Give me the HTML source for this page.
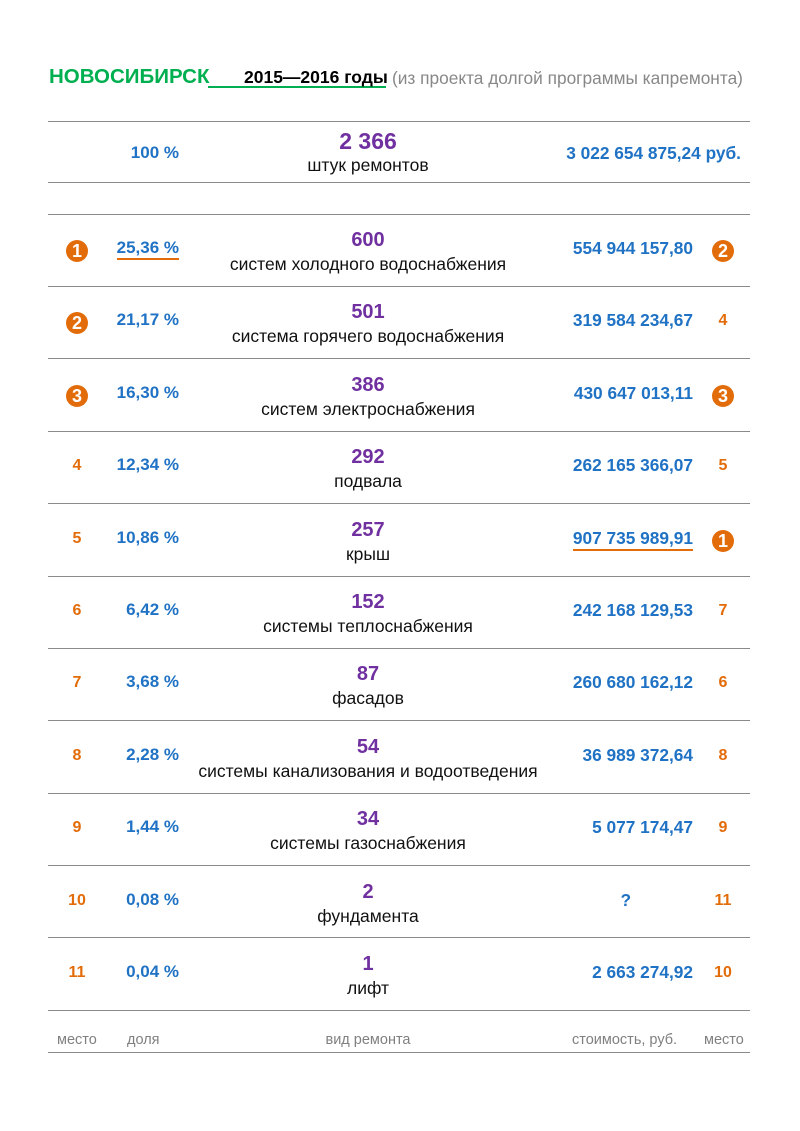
<!DOCTYPE html>
<html><head><meta charset="utf-8"><style>
body{margin:0;background:#fff;width:800px;height:1131px;position:relative;font-family:"Liberation Sans",sans-serif;overflow:hidden}
.a{position:absolute;white-space:nowrap}
.hl{position:absolute;left:48px;width:702px;height:1px;background:#8a8a8a}
.row{position:absolute;left:0;width:800px;height:72px}
.pl{position:absolute;left:57px;width:40px;text-align:center;top:26px;font-size:16px;font-weight:bold;color:#e36c0a}
.pr{position:absolute;left:703px;width:40px;text-align:center;top:26px;font-size:16px;font-weight:bold;color:#e36c0a}
.pc{position:absolute;right:621px;top:24px;font-size:17px;font-weight:bold;color:#1f72c4}
.n{position:absolute;left:118px;width:500px;text-align:center;top:15px;font-size:20px;font-weight:bold;color:#7030a0}
.d{position:absolute;left:118px;width:500px;text-align:center;top:40px;font-size:17.5px;color:#111}
.c{position:absolute;right:107px;top:24px;font-size:17.3px;font-weight:bold;color:#1f72c4}
.ci{display:inline-block;width:22px;height:22px;border-radius:50%;background:#e36c0a;color:#fff;font-size:18px;line-height:22px;text-align:center}
.u{border-bottom:2px solid #e36c0a;padding-bottom:1px}
.f{position:absolute;top:1032px;font-size:14.5px;color:#808080}
</style></head><body>
<div class="a" style="left:49px;top:65px;font-size:20.5px;font-weight:bold;color:#00b050">НОВОСИБИРСК</div>
<div class="a" style="left:208px;top:86px;width:178px;height:2px;background:#00b050"></div>
<div class="a" style="left:244px;top:67px;font-size:17.5px;font-weight:bold;color:#000">2015—2016 годы</div>
<div class="a" style="left:392px;top:68px;font-size:17.3px;color:#888">(из проекта долгой программы капремонта)</div>

<div class="hl" style="top:121px"></div>
<div class="hl" style="top:182px"></div>
<div class="hl" style="top:214px"></div>
<div class="a" style="right:621px;top:143px;font-size:17px;font-weight:bold;color:#1f72c4">100 %</div>
<div class="a" style="left:118px;width:500px;text-align:center;top:128px;font-size:23px;font-weight:bold;color:#7030a0">2 366</div>
<div class="a" style="left:118px;width:500px;text-align:center;top:155px;font-size:17.5px;color:#111">штук ремонтов</div>
<div class="a" style="right:59px;top:143px;font-size:17.3px;font-weight:bold;color:#1f72c4">3 022 654 875,24 руб.</div>

<div class="row" style="top:214px"><div class="pl"><span class="ci">1</span></div><div class="pc"><span class="u">25,36 %</span></div><div class="n">600</div><div class="d">систем холодного водоснабжения</div><div class="c">554 944 157,80</div><div class="pr"><span class="ci">2</span></div></div>
<div class="hl" style="top:286px"></div>
<div class="row" style="top:286px"><div class="pl"><span class="ci">2</span></div><div class="pc">21,17 %</div><div class="n">501</div><div class="d">система горячего водоснабжения</div><div class="c">319 584 234,67</div><div class="pr">4</div></div>
<div class="hl" style="top:358px"></div>
<div class="row" style="top:359px"><div class="pl"><span class="ci">3</span></div><div class="pc">16,30 %</div><div class="n">386</div><div class="d">систем электроснабжения</div><div class="c">430 647 013,11</div><div class="pr"><span class="ci">3</span></div></div>
<div class="hl" style="top:431px"></div>
<div class="row" style="top:431px"><div class="pl">4</div><div class="pc">12,34 %</div><div class="n">292</div><div class="d">подвала</div><div class="c">262 165 366,07</div><div class="pr">5</div></div>
<div class="hl" style="top:503px"></div>
<div class="row" style="top:504px"><div class="pl">5</div><div class="pc">10,86 %</div><div class="n">257</div><div class="d">крыш</div><div class="c"><span class="u">907 735 989,91</span></div><div class="pr"><span class="ci">1</span></div></div>
<div class="hl" style="top:576px"></div>
<div class="row" style="top:576px"><div class="pl">6</div><div class="pc">6,42 %</div><div class="n">152</div><div class="d">системы теплоснабжения</div><div class="c">242 168 129,53</div><div class="pr">7</div></div>
<div class="hl" style="top:648px"></div>
<div class="row" style="top:648px"><div class="pl">7</div><div class="pc">3,68 %</div><div class="n">87</div><div class="d">фасадов</div><div class="c">260 680 162,12</div><div class="pr">6</div></div>
<div class="hl" style="top:720px"></div>
<div class="row" style="top:721px"><div class="pl">8</div><div class="pc">2,28 %</div><div class="n">54</div><div class="d">системы канализования и водоотведения</div><div class="c">36 989 372,64</div><div class="pr">8</div></div>
<div class="hl" style="top:793px"></div>
<div class="row" style="top:793px"><div class="pl">9</div><div class="pc">1,44 %</div><div class="n">34</div><div class="d">системы газоснабжения</div><div class="c">5 077 174,47</div><div class="pr">9</div></div>
<div class="hl" style="top:865px"></div>
<div class="row" style="top:866px"><div class="pl">10</div><div class="pc">0,08 %</div><div class="n">2</div><div class="d">фундамента</div><div class="c" style="right:169px">?</div><div class="pr">11</div></div>
<div class="hl" style="top:937px"></div>
<div class="row" style="top:938px"><div class="pl">11</div><div class="pc">0,04 %</div><div class="n">1</div><div class="d">лифт</div><div class="c">2 663 274,92</div><div class="pr">10</div></div>
<div class="hl" style="top:1010px"></div>
<div class="f" style="left:57px">место</div>
<div class="f" style="left:127px">доля</div>
<div class="f" style="left:168px;width:400px;text-align:center">вид ремонта</div>
<div class="f" style="left:572px">стоимость, руб.</div>
<div class="f" style="left:704px">место</div>
<div class="hl" style="top:1052px"></div>
</body></html>
